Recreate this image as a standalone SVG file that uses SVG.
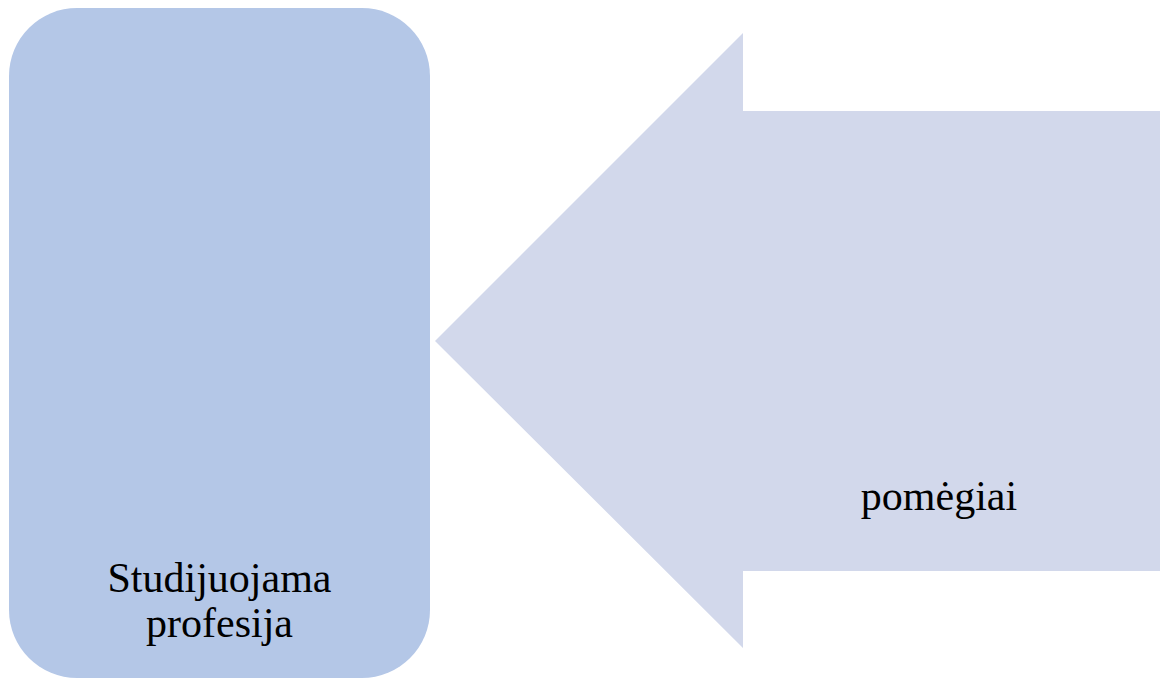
<svg xmlns="http://www.w3.org/2000/svg" width="1160" height="680" viewBox="0 0 1160 680">
<style>
.t{font-family:"Liberation Serif","Times New Roman",serif;font-size:42px;fill:#000;text-anchor:middle}
</style>
<rect width="1160" height="680" fill="#fff"/>
<g id="node-profesija">
<rect x="9" y="8" width="421" height="670" rx="68" ry="68" fill="#B4C7E7"/>
<text class="t" x="219.5" y="592">Studijuojama</text>
<text class="t" x="219.5" y="637">profesija</text>
</g>
<g id="node-pomegiai">
<polygon points="435,341 743,33 743,111 1160,111 1160,571 743,571 743,648" fill="#D2D8EB"/>
<text class="t" x="939" y="510">pomėgiai</text>
</g>
<g id="connectors"></g>
</svg>
